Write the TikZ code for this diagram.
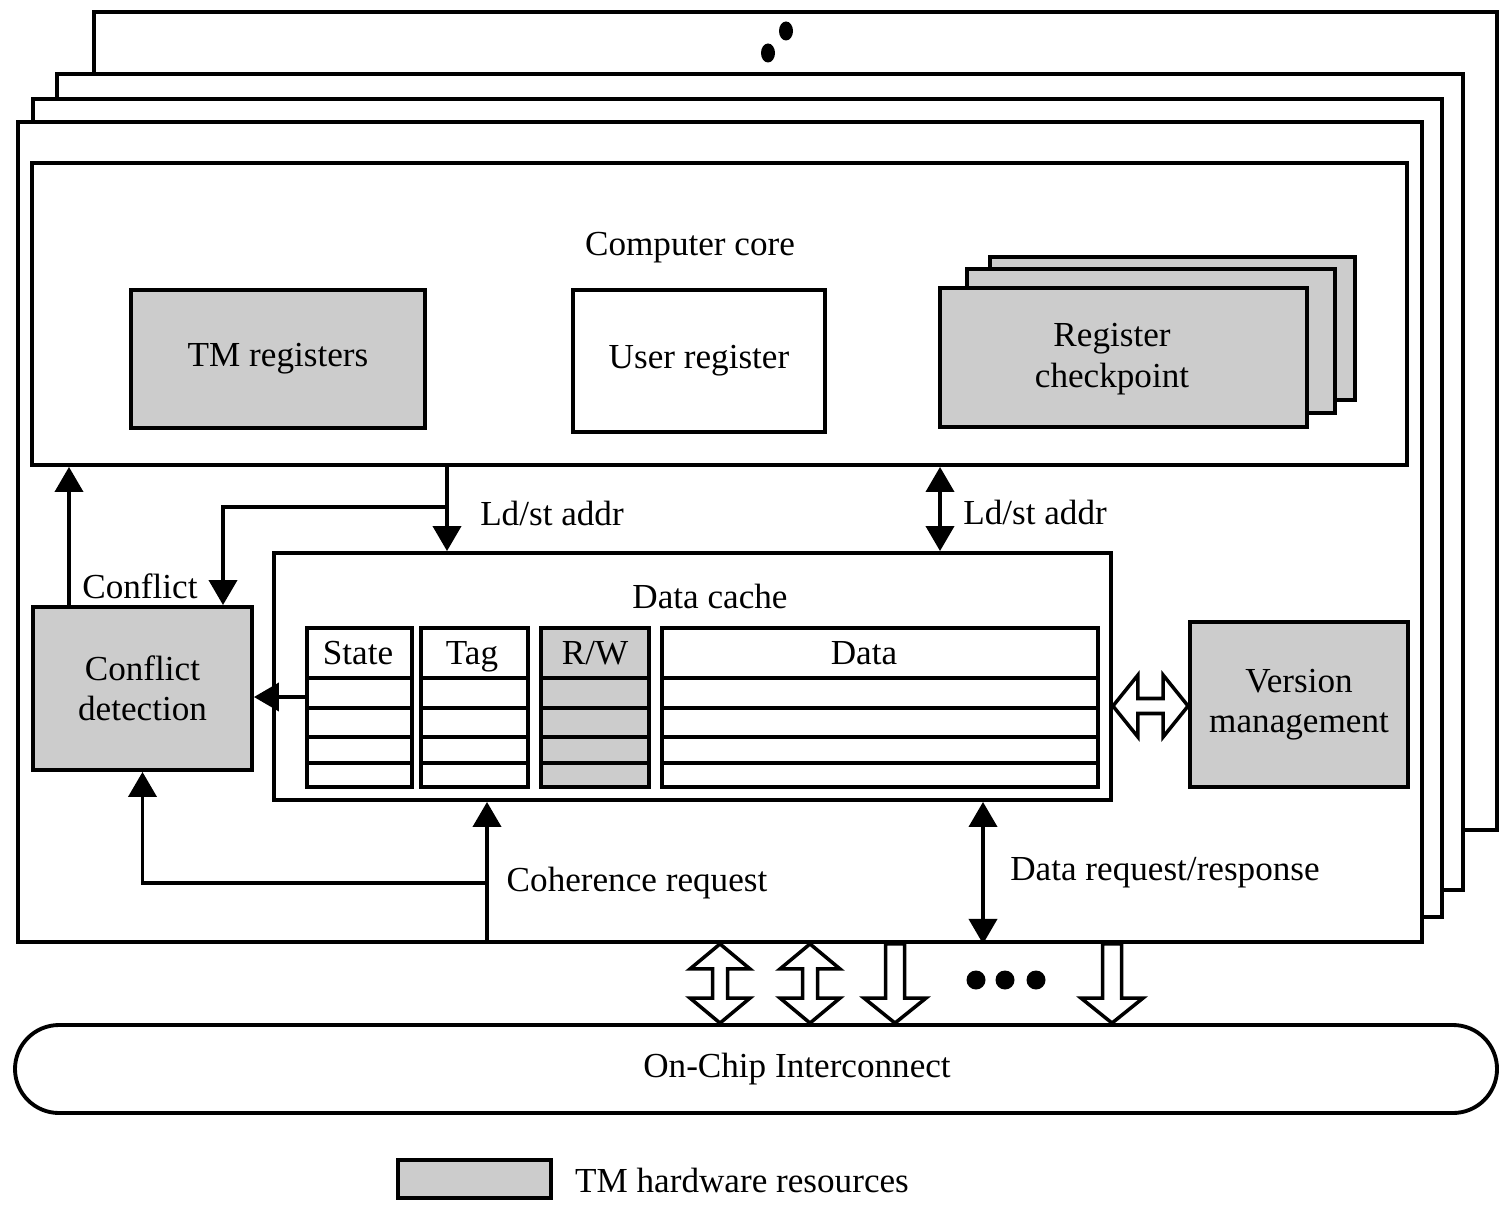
\documentclass[tikz,border=0pt]{standalone}
\usepackage{fontspec}
\setmainfont{Liberation Serif}
\usetikzlibrary{calc,arrows.meta}
\def\fatdbl(#1)(#2){\path (#1) coordinate (fa) (#2) coordinate (fb);
	\draw[fatarrow] (fa) -- ($(fa)+(0.30,0.25)$) -- ($(fa)+(0.075,0.25)$) -- ($(fb)+(0.075,-0.25)$) -- ($(fb)+(0.30,-0.25)$) -- (fb) -- ($(fb)+(-0.30,-0.25)$) -- ($(fb)+(-0.075,-0.25)$) -- ($(fa)+(-0.075,0.25)$) -- ($(fa)+(-0.30,0.25)$) -- cycle;}
\def\fatdown(#1)(#2){\path (#1) coordinate (fa) (#2) coordinate (fb);
	\draw[fatarrow] ($(fa)+(-0.095,0)$) -- ($(fa)+(0.095,0)$) -- ($(fb)+(0.095,-0.25)$) -- ($(fb)+(0.31,-0.25)$) -- (fb) -- ($(fb)+(-0.31,-0.25)$) -- ($(fb)+(-0.095,-0.25)$) -- cycle;}
\def\fatlr(#1)(#2){\path (#1) coordinate (fa) (#2) coordinate (fb);
	\draw[fatarrow] (fa) -- ($(fa)+(0.25,-0.31)$) -- ($(fa)+(0.25,-0.075)$) -- ($(fb)+(-0.25,-0.075)$) -- ($(fb)+(-0.25,-0.31)$) -- (fb) -- ($(fb)+(-0.25,0.31)$) -- ($(fb)+(-0.25,0.075)$) -- ($(fa)+(0.25,0.075)$) -- ($(fa)+(0.25,0.31)$) -- cycle;}

\begin{document}
\begin{tikzpicture}[x=1cm, y=-1cm, line width=1.1pt, font=\fontsize{10}{11.5}\selectfont,
		box/.style={draw, fill=white, inner sep=0pt, align=center},
		tmbox/.style={box, fill=black!20},
		arr/.style={-{Triangle[width=0.28cm,length=0.25cm]}},
		dblarr/.style={{Triangle[width=0.28cm,length=0.25cm]}-{Triangle[width=0.28cm,length=0.25cm]}},
		fatarrow/.style={draw, fill=white, line width=1pt, line join=miter}]
		%%%%% START %%%%%
		\useasboundingbox (0,0) rectangle (14.99,12.10);
		
		% stacked cores
		\draw[fill=white] (0.94,0.12) rectangle (14.97,8.30);
		\fill (7.86,0.31) ellipse (0.07 and 0.095);
		\fill (7.68,0.53) ellipse (0.07 and 0.095);
		\draw[fill=white] (0.57,0.74) rectangle (14.63,8.90);
		\draw[fill=white] (0.33,0.99) rectangle (14.42,9.17);
		\node[box, minimum width=14.04cm, minimum height=8.20cm] (chip) at (7.20,5.32) {};
		
		% computer core
		\node[box, minimum width=13.75cm, minimum height=3.02cm] (core) at (7.195,3.14) {};
		\node (coretitle) at (6.90,2.48) {Computer core};
		\node[tmbox, minimum width=2.94cm, minimum height=1.38cm] (tmreg) at (2.78,3.59) {TM registers};
		\node[box, minimum width=2.52cm, minimum height=1.42cm] (userreg) at (6.99,3.61) {User register};
		\node[tmbox, minimum width=3.65cm, minimum height=1.43cm] (ckpt3) at (11.725,3.285) {};
		\node[tmbox, minimum width=3.68cm, minimum height=1.44cm] (ckpt2) at (11.51,3.41) {};
		\node[tmbox, minimum width=3.67cm, minimum height=1.39cm] (ckpt) at (11.235,3.575) {};
		\node[align=center] (ckptlbl) at (11.12,3.59) {Register\\checkpoint};
		
		% data cache
		\node[box, minimum width=8.37cm, minimum height=2.47cm] (cache) at (6.925,6.765) {};
		\node (cachetitle) at (7.10,5.96) {Data cache};
		\foreach \cx/\cw/\tx/\nm/\txt/\fc in {3.595/1.05/3.58/state/State/white, 4.745/1.07/4.72/tag/Tag/white, 5.95/1.08/5.95/rw/{R/W}/black!20, 8.80/4.36/8.64/data/Data/white} {
			\node[box, fill=\fc, minimum width=\cw cm, minimum height=1.59cm] (col-\nm) at (\cx,7.075) {};
			\node[text height=1.6ex, text depth=0.45ex] (hd-\nm) at (\tx,6.55) {\txt};
			\foreach \ry in {6.78,7.08,7.37,7.63}
				\draw ({\cx-\cw/2},\ry) -- ({\cx+\cw/2},\ry);
		}
		
		\node[tmbox, minimum width=2.19cm, minimum height=1.63cm] (cd) at (1.425,6.885) {Conflict\\detection};
		\node (cdlbl) at (1.40,5.86) {Conflict};
		\node[tmbox, minimum width=2.18cm, minimum height=1.65cm] (vm) at (12.99,7.045) {Version\\management};
		
		\node[draw, rounded corners=0.44cm, minimum width=14.82cm, minimum height=0.88cm] (noc) at (7.56,10.69) {};
		\node (noclbl) at (7.97,10.69) {On-Chip Interconnect};
		
		% connectors
		\coordinate (xa) at (0.69,0);
		\coordinate (xb) at (4.47,0);
		\coordinate (xc) at (2.23,0);
		\coordinate (yb) at (0,5.07);
		\coordinate (xd) at (9.40,0);
		\coordinate (ye) at (0,6.97);
		\coordinate (xf) at (4.87,0);
		\coordinate (yf) at (0,8.83);
		\coordinate (xh) at (9.83,0);
		\coordinate (yg) at (0,7.06);
		
		\draw[arr] (cd.north -| xa) -- (core.south -| xa);
		\draw[arr] (core.south -| xb) -- (cache.north -| xb);
		\draw[arr] (yb -| xb) -- (yb -| xc) -- (cd.north -| xc);
		\draw[dblarr] (core.south -| xd) -- (cache.north -| xd);
		\draw[arr] (col-state.west |- ye) -- (cd.east |- ye);
		\draw[arr] (chip.south -| xf) -- (cache.south -| xf);
		\draw[arr] (yf -| xf) -- (cd.south |- yf) -- (cd.south);
		\draw[dblarr] (chip.south -| xh) -- (cache.south -| xh);
		
		\node (ldst1) at (5.52,5.13) {Ld/st addr};
		\node (ldst2) at (10.35,5.12) {Ld/st addr};
		\node (cohlbl) at (6.37,8.83) {Coherence request};
		\node (datalbl) at (11.65,8.73) {Data request/response};
		
		\fatlr(cache.east |- yg)(vm.west |- yg);
		
		% links to the interconnect
		\coordinate (x1) at (7.20,0);
		\coordinate (x2) at (8.10,0);
		\coordinate (x3) at (8.95,0);
		\coordinate (x4) at (11.12,0);
		\fatdbl(chip.south -| x1)(noc.north -| x1);
		\fatdbl(chip.south -| x2)(noc.north -| x2);
		\fatdown(chip.south -| x3)(noc.north -| x3);
		\fatdown(chip.south -| x4)(noc.north -| x4);
		\foreach \dx in {9.76,10.05,10.36}
			\fill (\dx,9.80) circle (0.095);
		
		% legend
		\node[tmbox, minimum width=1.53cm, minimum height=0.38cm] (legbox) at (4.745,11.79) {};
		\node (legtxt) at (7.42,11.80) {TM hardware resources};
		
		%%%%% END %%%%%
	\end{tikzpicture}
\end{document}
